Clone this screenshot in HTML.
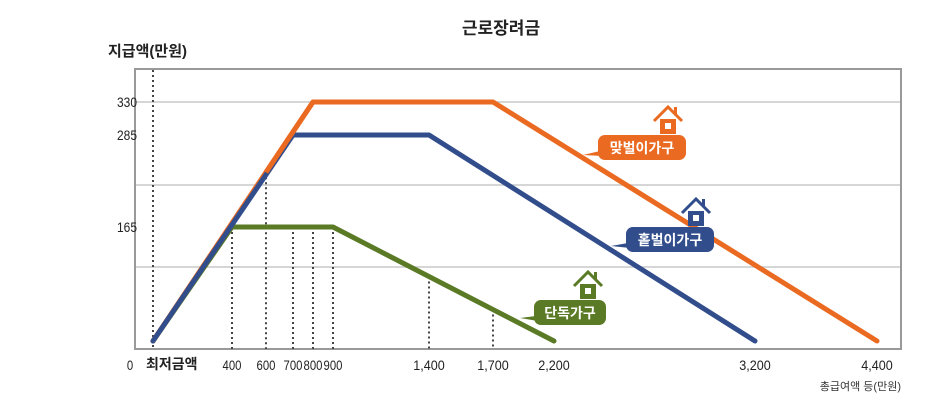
<!DOCTYPE html>
<html><head><meta charset="utf-8"><style>
body{margin:0;background:#fff;}
svg text{font-family:"Liberation Sans Narrow","Liberation Sans","Noto Sans CJK KR",sans-serif;}
</style></head><body>
<svg width="942" height="409" viewBox="0 0 942 409">
<text x="501" y="34" text-anchor="middle" font-size="17" font-weight="bold" fill="#222">근로장려금</text>
<text x="108" y="56" font-size="15" font-weight="bold" fill="#222">지급액(만원)</text>
<rect x="135" y="69" width="766" height="280" fill="#fff" stroke="#999" stroke-width="2"/>
<g id="grid"></g>
<g id="vlines"></g>
<g id="series"></g>
<g id="ticks"></g>
<text x="901" y="390" text-anchor="end" font-size="11" fill="#333">총급여액 등(만원)</text>
<g id="labels"></g>
</svg>
<script>
const xTicks=[0,400,600,700,800,900,1400,1700,2200,3200,4400];
const xTickLabels=["0","400","600","700","800","900","1,400","1,700","2,200","3,200","4,400"];
const yTicks=[0,165,285,330];
const yTickLabels=["","165","285","330"];
const coupleX=[0,800,1700,4400];
const coupleY=[0,330,330,0];
const singleEarnerX=[0,700,1400,3200];
const singleEarnerY=[0,285,285,0];
const soloX=[0,400,900,2200];
const soloY=[0,165,165,0];
// axis layout (pixel knots for the reference's non-linear axes)
const xPix=[153,232,266,293,313,333,429,493,554,755,877];
const yPix=[341,227,135,102];
function interp(v,ks,ps){for(let i=0;i<ks.length-1;i++){if(v<=ks[i+1]||i==ks.length-2){const t=(v-ks[i])/(ks[i+1]-ks[i]);return ps[i]+t*(ps[i+1]-ps[i]);}}}
const X=v=>interp(v,xTicks,xPix), Y=v=>interp(v,yTicks,yPix);
const NS="http://www.w3.org/2000/svg";
function mk(tag,attrs,parent){const e=document.createElementNS(NS,tag);for(const k in attrs)e.setAttribute(k,attrs[k]);document.getElementById(parent).appendChild(e);return e;}
// pixel y of a polyline (in pixel space) at a given x pixel
function yAt(xs,ys,px){for(let i=0;i<xs.length-1;i++){const a=X(xs[i]),b=X(xs[i+1]);if(px>=a&&px<=b){const t=(px-a)/(b-a);return Y(ys[i])+t*(Y(ys[i+1])-Y(ys[i]));}}return null;}
[102,185,267].forEach(y=>{const l=mk('line',{x1:136,x2:900,y1:y,y2:y,stroke:'#c8c8c8','stroke-width':1.5},'grid');

});
xTicks.forEach((v,i)=>{
 const x=X(v);
 if(v<2200){
  let top=70;
  if(i>0){const ys=[yAt(coupleX,coupleY,x),yAt(singleEarnerX,singleEarnerY,x),yAt(soloX,soloY,x)].filter(a=>a!==null);top=Math.max(...ys);
   if(v==600) top=yAt(coupleX,coupleY,x);}
  const vl=mk('line',{x1:x,x2:x,y1:top,y2:349,stroke:'#444','stroke-width':2,'stroke-dasharray':'2,3'},'vlines');
  
  
 }
 const lbl=xTickLabels[i];
 const t=mk('text',{x:i==0?130:x,y:370,'text-anchor':'middle','font-size':14,fill:'#222',textLength:lbl.length*6.3,lengthAdjust:'spacingAndGlyphs'},'ticks');
 t.textContent=lbl;
 
 
});
const mw=mk('text',{x:146,y:369,'font-size':14,'font-weight':'bold',fill:'#222'},'ticks');
mw.textContent='최저금액';


yTicks.forEach((v,i)=>{if(!yTickLabels[i])return;
 const t=mk('text',{x:117,y:Y(v)+5,'font-size':14,fill:'#222',textLength:20,lengthAdjust:'spacingAndGlyphs'},'ticks');
 t.textContent=yTickLabels[i];
 
 });
function pts(xs,ys){return xs.map((x,i)=>X(x)+','+Y(ys[i])).join(' ');}
const s1=mk('polyline',{points:pts(soloX,soloY),fill:'none',stroke:'#5a7a25','stroke-width':5,'stroke-linecap':'round','stroke-linejoin':'round'},'series');


const s2=mk('polyline',{points:pts(coupleX,coupleY),fill:'none',stroke:'#ea6a22','stroke-width':5,'stroke-linecap':'round','stroke-linejoin':'round'},'series');


const s3=mk('polyline',{points:pts(singleEarnerX,singleEarnerY),fill:'none',stroke:'#324d8c','stroke-width':5,'stroke-linecap':'round','stroke-linejoin':'round'},'series');


// orange overlay above blue from 600
const ox=X(600), oy=yAt(coupleX,coupleY,ox);
const s4=mk('polyline',{points:ox+','+oy+' '+X(coupleX[1])+','+Y(coupleY[1])+' '+X(coupleX[2])+','+Y(coupleY[2]),fill:'none',stroke:'#ea6a22','stroke-width':5,'stroke-linejoin':'round'},'series');


function label(x,y,w,txt,col,tx,ty,name){
 const g=mk('g',{},'labels');
 
 
 const ns=(t,a)=>{const e=document.createElementNS(NS,t);for(const k in a)e.setAttribute(k,a[k]);g.appendChild(e);return e;};
 ns('path',{d:`M${x+2} ${y+16} L${tx} ${ty} L${x+4} ${y+21} Z`,fill:col});
 ns('rect',{x:x,y:y,width:w,height:25,rx:7,fill:col});
 const t=ns('text',{x:x+w/2,y:y+18,'text-anchor':'middle','font-size':14,'font-weight':'bold',fill:'#fff'});t.textContent=txt;
 const hx=x+w-18,hy=y-1;
 ns('path',{d:`M${hx-14} ${hy-13} L${hx} ${hy-27} L${hx+14} ${hy-13}`,fill:'none',stroke:col,'stroke-width':3});
 ns('rect',{x:hx+6,y:hy-27,width:3,height:8,fill:col});
 ns('rect',{x:hx-8,y:hy-15,width:16,height:15,fill:col});
 ns('rect',{x:hx-3,y:hy-11,width:6,height:6,fill:'#fff'});
}
label(598,135,88,'맞벌이가구','#ea6a22',583,155,'dual-earner-label');
label(626,227,88,'홑벌이가구','#324d8c',611,246,'single-earner-label');
label(534,300,72,'단독가구','#5a7a25',520,318,'solo-household-label');
</script>
</body></html>
